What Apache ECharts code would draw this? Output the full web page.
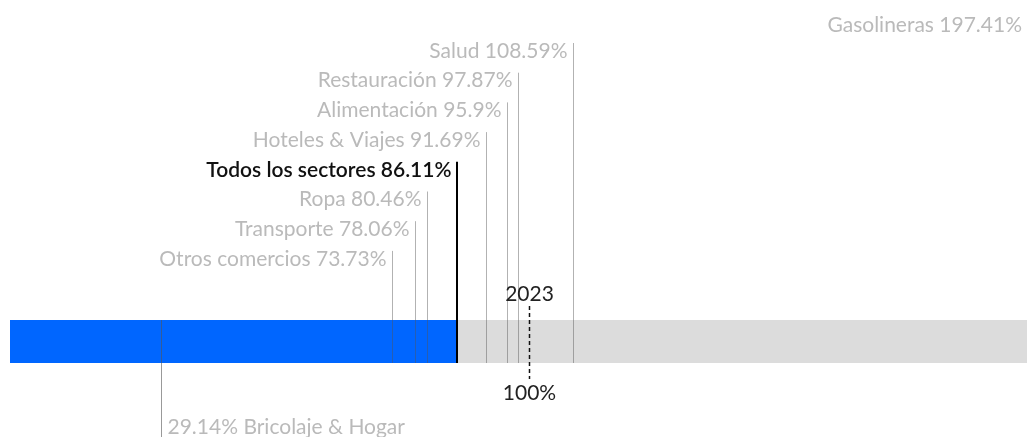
<!DOCTYPE html>
<html>
<head>
<meta charset="utf-8">
<script src="https://cdn.jsdelivr.net/npm/echarts@6/dist/echarts.min.js"></script>
<style>
  html, body { margin: 0; padding: 0; background: #fff; }
  #chart { width: 1027px; height: 437px; }
</style>
</head>
<body>
<div id="chart"></div>
<script>
const sectors = ['Gasolineras', 'Salud', 'Restauración', 'Alimentación', 'Hoteles & Viajes',
  'Todos los sectores', 'Ropa', 'Transporte', 'Otros comercios', 'Bricolaje & Hogar'];
const values = [197.41, 108.59, 97.87, 95.9, 91.69, 86.11, 80.46, 78.06, 73.73, 29.14];
const rows = [0, 1, 2, 3, 4, 5, 6, 7, 8, -1]; // -1 = below the bar
const totalLabel = 'Todos los sectores';
const yearLabel = '2023';
const refValue = 100;

const chart = echarts.init(document.getElementById('chart'));
const FONT = '21px Lato';
const totalValue = values[sectors.indexOf(totalLabel)];

chart.setOption({
  animation: false,
  grid: { left: 10, right: 0, top: 320, height: 43 },
  xAxis: { type: 'value', min: 0, max: 196.1, show: false },
  yAxis: { type: 'category', data: [yearLabel], show: false },
  series: [
    {
      type: 'bar',
      data: [totalValue],
      barWidth: '100%',
      itemStyle: { color: '#0066ff' },
      showBackground: true,
      backgroundStyle: { color: '#dcdcdc' },
      z: 1
    },
    {
      type: 'custom',
      z: 5,
      clip: false,
      data: values.map((v, i) => [v, 0, i]),
      renderItem: (params, api) => {
        const i = api.value(2);
        const p = api.coord([api.value(0), yearLabel]);
        const x = Math.round(p[0]) + 0.5;
        const band = api.size([0, 1])[1];
        const barTop = p[1] - band / 2;
        const barBottom = p[1] + band / 2;
        const isTotal = sectors[i] === totalLabel;
        const row = rows[i];
        const color = isTotal ? '#111' : '#bababa';
        const txt = row < 0
          ? values[i] + '% ' + sectors[i]
          : sectors[i] + ' ' + values[i] + '%';
        if (row < 0) {
          return {
            type: 'group',
            children: [
              { type: 'line', shape: { x1: x, y1: barTop, x2: x, y2: 437 },
                style: { stroke: '#555', lineWidth: 1, opacity: 0.6 } },
              { type: 'text', x: x + 6, y: 427,
                style: { text: txt, fill: color, font: FONT,
                         textAlign: 'left', textVerticalAlign: 'middle' } }
            ]
          };
        }
        const ly = row === 0 ? 25 : 51 + (row - 1) * 29.7;
        const tx = Math.min(x - 6, 1022);
        const children = [
          { type: 'text', x: tx, y: ly,
            style: { text: txt, fill: color,
                     font: (isTotal ? '600 ' : '') + FONT,
                     textAlign: 'right', textVerticalAlign: 'middle' } }
        ];
        if (x < 1027) {
          children.push({ type: 'line',
            shape: { x1: isTotal ? x - 0.5 : x, y1: ly - 8, x2: isTotal ? x - 0.5 : x, y2: barBottom },
            style: { stroke: isTotal ? '#000' : '#555', lineWidth: isTotal ? 2 : 1,
                     opacity: isTotal ? 1 : 0.45 } });
        }
        return { type: 'group', children: children };
      }
    },
    {
      type: 'custom',
      z: 6,
      clip: false,
      data: [[refValue, 0]],
      renderItem: (params, api) => {
        const p = api.coord([api.value(0), yearLabel]);
        const x = Math.round(p[0]) + 0.5;
        const band = api.size([0, 1])[1];
        return {
          type: 'group',
          children: [
            { type: 'line', shape: { x1: x, y1: p[1] - band / 2 - 14, x2: x, y2: p[1] + band / 2 + 16 },
              style: { stroke: '#111', lineWidth: 1.5, lineDash: [4, 3] } },
            { type: 'text', x: x, y: p[1] - band / 2 - 26,
              style: { text: yearLabel, fill: '#222', font: FONT,
                       textAlign: 'center', textVerticalAlign: 'middle' } },
            { type: 'text', x: x, y: p[1] + band / 2 + 30,
              style: { text: refValue + '%', fill: '#222', font: FONT,
                       textAlign: 'center', textVerticalAlign: 'middle' } }
          ]
        };
      }
    }
  ]
});
window.addEventListener('resize', () => chart.resize());
</script>
</body>
</html>
